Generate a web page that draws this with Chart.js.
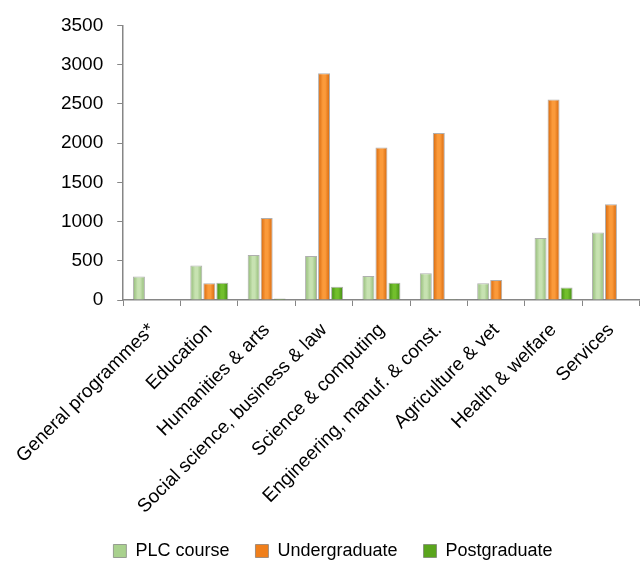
<!DOCTYPE html>
<html>
<head>
<meta charset="utf-8">
<script src="https://cdn.jsdelivr.net/npm/chart.js@4.4.1/dist/chart.umd.min.js"></script>
<style>
  html, body { margin: 0; padding: 0; background: #fff; }
  canvas { display: block; }
</style>
</head>
<body>
<canvas id="fieldChart" width="640" height="562"></canvas>
<script>
const categories = [
    'General programmes*', 'Education', 'Humanities & arts',
    'Social science, business & law', 'Science & computing',
    'Engineering, manuf. & const.', 'Agriculture & vet',
    'Health & welfare', 'Services'
];
const plcCourse     = [300, 440, 575, 560, 305, 340, 212, 790, 860];
const undergraduate = [5, 215, 1045, 2890, 1945, 2130, 255, 2555, 1220];
const postgraduate  = [0, 220, 20, 170, 220, 10, 0, 160, 0];
const yTicks = [0, 500, 1000, 1500, 2000, 2500, 3000, 3500];

// colour stops for each series: edge, middle, flat (legend)
const palette = [
    { edge: '#8fb873', mid: '#c7e2b1', flat: '#a9d18e' },
    { edge: '#d4650a', mid: '#fb9a3a', flat: '#f07f1b' },
    { edge: '#3f8812', mid: '#72bf2c', flat: '#5aa51d' }
];

const CAT_PCT = 0.68;
const BAR_PCT = 0.92;

// horizontal cylinder-style shading, positioned from the category scale
function barFill(ctx) {
    const p = palette[ctx.datasetIndex];
    const chart = ctx.chart;
    const xs = chart.scales.x;
    if (ctx.type !== 'data' || !xs || !chart.chartArea) return p.flat;
    const catW = (xs.right - xs.left) / categories.length * CAT_PCT;
    const slot = catW / 3;
    const cx = xs.getPixelForValue(ctx.dataIndex) - catW / 2 + (ctx.datasetIndex + 0.5) * slot;
    const half = slot * BAR_PCT / 2;
    if (!isFinite(cx)) return p.flat;
    const g = chart.ctx.createLinearGradient(cx - half, 0, cx + half, 0);
    g.addColorStop(0, p.edge);
    g.addColorStop(0.4, p.mid);
    g.addColorStop(0.6, p.mid);
    g.addColorStop(1, p.edge);
    return g;
}

const fontFamily = '"Liberation Sans", Arial, sans-serif';
const tickFont = { family: fontFamily, size: 19 };
const legendFont = { family: fontFamily, size: 18 };

const chart = new Chart(document.getElementById('fieldChart').getContext('2d'), {
    type: 'bar',
    data: {
        labels: categories,
        datasets: [
            { label: 'PLC course', data: plcCourse },
            { label: 'Undergraduate', data: undergraduate },
            { label: 'Postgraduate', data: postgraduate }
        ].map(ds => Object.assign(ds, {
            backgroundColor: barFill,
            borderColor: 'rgba(110,110,110,0.55)',
            borderWidth: 1,
            borderSkipped: 'bottom',
            categoryPercentage: CAT_PCT,
            barPercentage: BAR_PCT
        }))
    },
    options: {
        responsive: false,
        animation: false,
        layout: { padding: { top: 25, right: 0, left: 26, bottom: -8 } },
        plugins: {
            tooltip: { enabled: false },
            legend: {
                position: 'bottom',
                labels: {
                    font: legendFont,
                    color: '#000',
                    boxWidth: 13,
                    boxHeight: 13,
                    padding: 26,
                    generateLabels(c) {
                        return Chart.defaults.plugins.legend.labels.generateLabels(c).map((item, i) => {
                            item.fillStyle = palette[i].flat;
                            item.strokeStyle = 'rgba(110,110,110,0.6)';
                            item.lineWidth = 1;
                            return item;
                        });
                    }
                }
            }
        },
        scales: {
            x: {
                grid: { display: true, drawOnChartArea: false, offset: true, tickLength: 6, color: '#868686' },
                border: { color: '#868686', width: 1.5 },
                ticks: { font: tickFont, color: '#000', minRotation: 45, maxRotation: 45, autoSkip: false, padding: 13 },
                afterFit(scale) { scale.height = 216; }
            },
            y: {
                min: 0,
                max: 3500,
                afterBuildTicks(scale) { scale.ticks = yTicks.map(v => ({ value: v })); },
                grid: { display: true, drawOnChartArea: false, tickLength: 6, color: '#868686' },
                border: { color: '#868686', width: 1.5 },
                ticks: { font: tickFont, color: '#000', padding: 14, callback: v => String(v) },
                afterFit(scale) { scale.width = 96; }
            }
        }
    }
});
</script>
</body>
</html>
